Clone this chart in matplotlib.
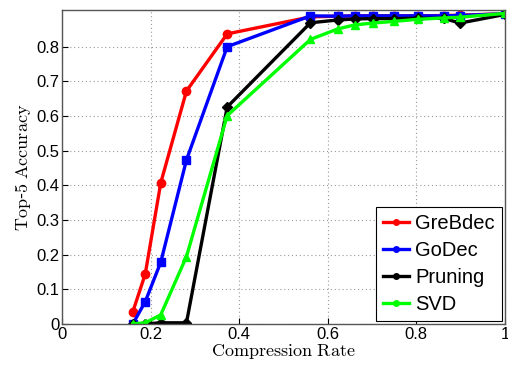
import matplotlib
matplotlib.use("Agg")
import matplotlib.pyplot as plt

plt.rcParams['mathtext.fontset'] = 'cm'
plt.rcParams['font.family'] = ['Liberation Sans', 'DejaVu Sans']

x_low = [0.16, 0.188, 0.223, 0.281, 0.373]
x_high = [0.561, 0.622, 0.661, 0.701, 0.749, 0.803, 0.862, 0.898, 1.0]
x_all = x_low + x_high

grebdec = [0.035, 0.144, 0.407, 0.672, 0.837,
           0.886, 0.888, 0.889, 0.889, 0.889, 0.889, 0.890, 0.891, 0.895]
godec = [0.0, 0.064, 0.178, 0.473, 0.800,
         0.889, 0.888, 0.889, 0.889, 0.889, 0.889, 0.889, 0.890, 0.895]
pruning = [0.0, 0.0, 0.003, 0.003, 0.626,
           0.869, 0.877, 0.880, 0.881, 0.881, 0.882, 0.882, 0.868, 0.893]
svd = [0.0, 0.003, 0.026, 0.194, 0.601,
       0.821, 0.851, 0.863, 0.868, 0.873, 0.879, 0.883, 0.885, 0.896]

series = [
    ("GreBdec", grebdec, "#ff0000", "o", 6),
    ("GoDec", godec, "#0000ff", "s", 5.5),
    ("Pruning", pruning, "#000000", "D", 5),
    ("SVD", svd, "#00ff00", "^", 6),
]

fig = plt.figure(figsize=(5.08, 3.68), dpi=100)
ax = fig.add_axes([0.122, 0.120, 0.872, 0.852])

for name, ys, c, m, ms in series:
    ax.plot(x_all, ys, color=c, marker=m, lw=2.4, ms=ms,
            mec=c, mfc=c, label=name)

ax.set_xlim(0, 1)
ax.set_ylim(0, 0.905)
ax.set_xticks([0, 0.2, 0.4, 0.6, 0.8, 1])
ax.set_xticklabels(["0", "0.2", "0.4", "0.6", "0.8", "1"])
ax.set_yticks([0, 0.1, 0.2, 0.3, 0.4, 0.5, 0.6, 0.7, 0.8])
ax.set_yticklabels(["0", "0.1", "0.2", "0.3", "0.4", "0.5", "0.6", "0.7", "0.8"])
ax.tick_params(direction='in', labelsize=12, length=4, pad=2)
ax.grid(True, linestyle=(0, (1, 2.5)), color='#999999', lw=0.8)
for s in ax.spines.values():
    s.set_color('#555555')
    s.set_linewidth(1.0)

ax.set_xlabel(r'$\mathrm{Compression\ Rate}$', fontsize=13, labelpad=0)
ax.set_ylabel(r'$\mathrm{Top}$-$\mathrm{5\ Accuracy}$', fontsize=13, labelpad=2)

handles = []
for name, ys, c, m, ms in series:
    h, = ax.plot([], [], color=c, marker='o', lw=2.4, ms=4, label=name)
    handles.append(h)
leg = ax.legend(handles=handles, loc='lower right', fontsize=14.5, fancybox=False,
                edgecolor='black', framealpha=1, handlelength=1.3, handletextpad=0.3,
                borderpad=0.35, labelspacing=0.4, borderaxespad=0.15)
leg.get_frame().set_linewidth(0.8)

fig.savefig("out.png", dpi=100)
